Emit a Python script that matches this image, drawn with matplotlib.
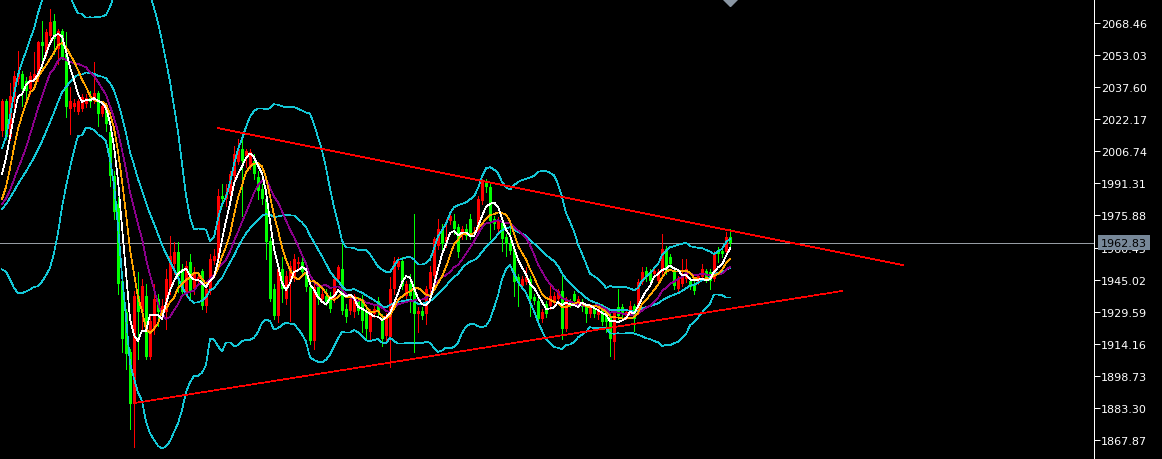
import numpy as np
import pandas as pd
import matplotlib
matplotlib.use("Agg")
import matplotlib.pyplot as plt
import matplotlib.transforms as mtransforms

# closes before the first visible bar (only used to warm up the indicators)
warmup_close = [1969.4, 1971.8, 1976.6, 1979.0, 1974.2, 1976.6, 1975.2, 1979.0, 1981.4, 1976.6,
                1974.2, 1976.6, 1967.0, 1962.1, 1962.1, 1974.2, 1983.8, 1991.0, 1999.2]

opens = [2016.6, 2031.0, 2013.7, 2032.0, 2041.6, 2044.0, 2040.7, 2036.8, 2041.6, 2043.1,
         2059.5, 2053.7, 2062.4, 2069.6, 2056.1, 2064.8, 2053.7, 2027.2, 2028.2, 2025.7,
         2027.2, 2029.6, 2032.5, 2031.0, 2034.9, 2024.8, 2028.2, 2016.1, 1994.9, 1981.4,
         1944.3, 1929.4, 1910.1, 1885.1, 1937.1, 1929.4, 1937.1, 1907.7, 1921.2, 1935.7,
         1929.4, 1929.4, 1940.5, 1952.5, 1958.3, 1950.1, 1939.0, 1953.5, 1940.5, 1945.3,
         1949.2, 1932.3, 1940.5, 1954.0, 1954.9, 1985.3, 1983.8, 1986.2, 1994.9, 2001.6,
         2007.9, 2004.5, 1999.7, 2002.1, 1994.4, 1988.6, 1983.8, 1963.6, 1940.5, 1927.5,
         1950.1, 1935.7, 1943.8, 1946.3, 1952.5, 1953.5, 1948.7, 1941.4, 1915.4, 1941.4,
         1935.7, 1937.1, 1937.1, 1935.7, 1945.3, 1950.1, 1930.8, 1929.9, 1929.4, 1934.7,
         1935.7, 1929.9, 1919.8, 1928.4, 1934.7, 1926.0, 1917.8, 1917.4, 1940.5, 1951.1,
         1954.0, 1937.1, 1942.9, 1941.4, 1928.4, 1929.9, 1928.4, 1940.5, 1946.7, 1961.2,
         1969.4, 1963.1, 1973.2, 1973.2, 1970.3, 1967.0, 1969.4, 1974.2, 1967.0, 1967.9,
         1982.9, 1992.0, 1989.6, 1974.2, 1969.4, 1972.7, 1965.5, 1962.1, 1959.7, 1946.3,
         1941.9, 1943.8, 1945.3, 1936.6, 1934.7, 1926.0, 1933.2, 1932.3, 1934.7, 1935.7,
         1939.5, 1921.2, 1934.7, 1938.1, 1933.2, 1934.2, 1931.8, 1928.4, 1930.8, 1928.0,
         1931.8, 1930.8, 1927.0, 1914.9, 1931.8, 1931.8, 1927.5, 1929.4, 1932.3, 1929.9,
         1943.8, 1949.2, 1948.7, 1947.7, 1944.3, 1948.7, 1959.7, 1955.9, 1949.6, 1940.5,
         1942.9, 1945.3, 1944.3, 1942.9, 1943.8, 1946.3, 1949.2, 1948.7, 1945.3, 1958.8,
         1958.8, 1958.3, 1965.5]

highs = [2032.0, 2032.0, 2039.7, 2045.5, 2055.1, 2045.5, 2042.6, 2045.0, 2054.6, 2059.9,
         2069.6, 2065.7, 2075.4, 2072.9, 2065.7, 2065.7, 2064.3, 2037.8, 2032.0, 2032.0,
         2034.4, 2034.4, 2035.9, 2049.8, 2035.9, 2030.6, 2029.6, 2017.6, 1997.3, 1984.8,
         1946.3, 1930.8, 1911.6, 1939.5, 1948.7, 1945.3, 1942.9, 1928.4, 1942.9, 1938.1,
         1935.7, 1950.1, 1966.0, 1963.1, 1963.1, 1952.5, 1954.0, 1957.3, 1951.1, 1947.7,
         1950.1, 1942.9, 1957.3, 1959.7, 1988.6, 1991.0, 1991.0, 1997.3, 2009.4, 2012.7,
         2014.2, 2007.9, 2007.9, 2005.5, 1997.3, 1991.0, 1986.2, 1965.5, 1942.9, 1951.1,
         1955.9, 1949.2, 1954.0, 1957.3, 1955.9, 1956.4, 1951.1, 1942.9, 1943.8, 1942.9,
         1940.5, 1940.5, 1939.0, 1947.2, 1952.0, 1963.1, 1933.2, 1936.6, 1938.1, 1936.6,
         1937.6, 1931.8, 1930.8, 1932.3, 1936.6, 1928.4, 1928.9, 1946.3, 1955.9, 1955.9,
         1955.9, 1944.3, 1947.7, 1976.6, 1931.8, 1931.8, 1941.9, 1951.6, 1965.5, 1974.2,
         1971.8, 1974.2, 1976.6, 1976.6, 1971.8, 1970.8, 1971.8, 1976.6, 1970.3, 1985.3,
         1993.5, 1993.5, 1991.0, 1975.6, 1975.2, 1974.2, 1967.0, 1969.4, 1960.7, 1947.7,
         1946.7, 1951.1, 1946.7, 1938.1, 1936.6, 1930.8, 1934.7, 1941.9, 1939.0, 1940.5,
         1948.7, 1936.6, 1935.7, 1939.5, 1937.1, 1935.7, 1933.2, 1933.2, 1932.3, 1932.3,
         1933.2, 1931.8, 1928.4, 1930.8, 1940.5, 1933.2, 1930.8, 1934.7, 1933.2, 1945.3,
         1951.1, 1951.1, 1950.1, 1951.6, 1950.1, 1967.0, 1961.2, 1957.3, 1951.1, 1946.7,
         1954.9, 1954.9, 1946.3, 1944.3, 1947.7, 1952.5, 1950.1, 1950.1, 1958.8, 1960.7,
         1959.7, 1967.9, 1969.4]

lows = [2014.2, 2012.7, 2012.3, 2026.2, 2039.2, 2028.6, 2032.0, 2034.4, 2040.7, 2040.7,
        2045.5, 2052.7, 2060.9, 2053.7, 2048.9, 2051.3, 2023.3, 2015.1, 2026.2, 2024.8,
        2026.2, 2028.2, 2028.2, 2030.1, 2019.0, 2023.8, 2016.6, 1990.1, 1974.2, 1938.1,
        1910.1, 1901.9, 1873.0, 1864.4, 1906.8, 1921.2, 1906.8, 1906.8, 1918.8, 1922.7,
        1927.0, 1921.2, 1938.1, 1947.7, 1939.0, 1937.1, 1937.1, 1935.7, 1938.1, 1942.9,
        1930.8, 1929.4, 1938.1, 1952.5, 1954.0, 1980.5, 1980.5, 1983.8, 1993.5, 2000.7,
        1975.6, 1999.2, 1998.3, 1993.5, 1983.8, 1981.4, 1954.9, 1934.7, 1926.0, 1924.6,
        1934.2, 1933.2, 1925.1, 1944.3, 1950.1, 1946.7, 1939.5, 1914.0, 1911.6, 1933.2,
        1934.2, 1932.8, 1929.4, 1934.2, 1944.3, 1928.4, 1924.6, 1928.4, 1927.0, 1928.4,
        1919.8, 1916.4, 1916.4, 1927.0, 1928.0, 1913.0, 1914.9, 1902.9, 1938.1, 1950.1,
        1940.5, 1935.7, 1929.4, 1910.1, 1919.8, 1926.0, 1923.6, 1939.0, 1945.3, 1959.7,
        1959.7, 1960.7, 1971.8, 1967.0, 1955.9, 1964.6, 1964.6, 1964.6, 1966.0, 1966.5,
        1981.4, 1987.2, 1964.6, 1969.4, 1967.9, 1958.8, 1956.4, 1957.3, 1937.1, 1932.3,
        1940.5, 1942.9, 1927.5, 1933.2, 1924.6, 1924.6, 1927.0, 1930.8, 1933.2, 1934.2,
        1916.4, 1920.2, 1931.8, 1933.2, 1931.8, 1929.9, 1924.6, 1927.0, 1927.0, 1926.0,
        1923.1, 1919.8, 1908.2, 1906.8, 1926.0, 1927.0, 1926.0, 1928.4, 1920.2, 1928.4,
        1942.9, 1944.3, 1942.9, 1946.3, 1943.4, 1947.7, 1947.7, 1951.1, 1940.5, 1939.5,
        1941.9, 1943.8, 1940.5, 1938.1, 1942.9, 1945.3, 1943.8, 1940.5, 1944.3, 1953.5,
        1955.9, 1957.3, 1960.7]

closes = [2031.0, 2013.7, 2033.5, 2043.1, 2044.5, 2036.8, 2035.9, 2043.1, 2044.0, 2059.5,
          2057.5, 2064.3, 2069.1, 2060.9, 2064.8, 2052.2, 2028.2, 2031.0, 2030.1, 2031.0,
          2033.0, 2032.5, 2030.6, 2034.9, 2024.8, 2028.6, 2020.0, 1994.9, 1977.6, 1942.9,
          1916.4, 1909.2, 1885.1, 1937.1, 1929.4, 1941.9, 1907.7, 1925.1, 1935.7, 1929.4,
          1932.3, 1945.3, 1956.4, 1958.3, 1946.7, 1939.0, 1951.6, 1939.0, 1948.7, 1946.3,
          1932.3, 1940.5, 1954.9, 1956.4, 1985.3, 1983.8, 1986.2, 1995.9, 2005.5, 2007.9,
          2002.1, 2007.0, 2006.5, 1995.9, 1987.7, 1983.8, 1963.1, 1935.7, 1927.5, 1950.1,
          1940.5, 1946.7, 1951.6, 1954.9, 1953.5, 1948.7, 1941.4, 1915.4, 1941.4, 1935.7,
          1938.1, 1934.2, 1930.8, 1945.3, 1951.1, 1929.9, 1927.0, 1935.7, 1937.1, 1929.9,
          1925.1, 1921.2, 1929.4, 1930.8, 1929.4, 1916.4, 1927.5, 1940.5, 1954.0, 1954.0,
          1941.9, 1942.9, 1937.1, 1928.4, 1929.9, 1927.5, 1940.5, 1948.7, 1964.6, 1969.4,
          1962.1, 1965.5, 1975.6, 1969.4, 1958.3, 1969.4, 1966.0, 1967.0, 1967.9, 1983.8,
          1992.5, 1989.6, 1973.2, 1971.8, 1973.2, 1964.6, 1962.1, 1958.8, 1943.8, 1943.8,
          1945.3, 1946.3, 1935.7, 1934.7, 1926.0, 1929.4, 1928.4, 1937.1, 1937.1, 1939.5,
          1921.2, 1934.7, 1933.2, 1934.7, 1935.7, 1931.8, 1928.4, 1932.3, 1928.4, 1930.8,
          1924.6, 1924.6, 1916.4, 1929.4, 1927.5, 1928.4, 1929.4, 1932.3, 1926.0, 1943.8,
          1948.7, 1946.3, 1944.3, 1949.2, 1948.7, 1959.7, 1949.2, 1952.5, 1941.9, 1945.3,
          1946.7, 1950.1, 1941.4, 1939.5, 1946.7, 1950.1, 1945.3, 1944.3, 1957.3, 1957.3,
          1957.3, 1965.5, 1962.83]

price_ticks = [2068.46, 2053.03, 2037.60, 2022.17, 2006.74, 1991.31, 1975.88,
               1960.45, 1945.02, 1929.59, 1914.16, 1898.73, 1883.30, 1867.87]
last_price = 1962.83

# trendlines: (bar index, price) endpoints
upper_line = [(54, 2018.0), (225.25, 1952.0)]
lower_line = [(33, 1885.5), (210, 1939.5)]

############################ indicators ###########################
n_warm = len(warmup_close)
all_close = pd.Series(warmup_close + closes)
ma5 = all_close.rolling(5).mean().to_numpy()[n_warm:]
ma8 = all_close.rolling(8).mean().to_numpy()[n_warm:]
ma13 = all_close.rolling(13).mean().to_numpy()[n_warm:]
bb_mid = all_close.rolling(20).mean()
bb_std = all_close.rolling(20).std(ddof=0)
bb_up = (bb_mid + 2 * bb_std).to_numpy()[n_warm:]
bb_dn = (bb_mid - 2 * bb_std).to_numpy()[n_warm:]
bb_mid = bb_mid.to_numpy()[n_warm:]

o = np.array(opens)
h = np.array(highs)
l = np.array(lows)
c = np.array(closes)
x = np.arange(len(c))
up = c >= o  # red = up, green = down

############################ figure ###########################
W, H = 1162, 460
fig = plt.figure(figsize=(W / 100, H / 100), dpi=100, facecolor="black")
ax = fig.add_axes([0, 0, 1094 / W, 1], facecolor="black")

lw = 0.5  # thin enough to come out as a single pixel without antialiasing
red, green = "#ff0000", "#00ff00"
cols = np.where(up, red, green)

# candles (crisp, like the terminal draws them)
ax.vlines(x, l, h, colors=cols, linewidth=lw, antialiased=False, zorder=2)
ax.bar(x, np.maximum(np.abs(c - o), 0.5), bottom=np.minimum(o, c), width=0.75,
       color=cols, linewidth=0, antialiased=False, zorder=3)

# bollinger bands + moving averages
cyan = "#14c8d8"
for band in (bb_up, bb_mid, bb_dn):
    ax.plot(x, band, color=cyan, lw=lw, antialiased=False, zorder=4)
ax.plot(x, ma13, color="#8b008b", lw=lw, antialiased=False, zorder=5)
ax.plot(x, ma8, color="#ffa500", lw=lw, antialiased=False, zorder=6)
ax.plot(x, ma5, color="white", lw=lw, antialiased=False, zorder=7)

# trendlines
for line in (upper_line, lower_line):
    ax.plot([line[0][0], line[1][0]], [line[0][1], line[1][1]], color=red, lw=lw,
            antialiased=False, zorder=8)

# current price line
ax.axhline(last_price, color="#969ca3", lw=lw, antialiased=False, zorder=1)

ax.set_xlim(-0.5, 273)
ax.set_ylim(1858.57, 2080.17)

# chart shift marker at the top
ax.plot([182], [2080.17], marker="D", ms=7, color="#8a96a3", clip_on=True, zorder=9)

# price scale on the right
for s in ("left", "top", "bottom"):
    ax.spines[s].set_visible(False)
ax.spines["right"].set_color("white")
ax.spines["right"].set_linewidth(0.72)
ax.xaxis.set_visible(False)
ax.yaxis.tick_right()
ax.set_yticks(price_ticks)
ax.set_yticklabels(["%.2f" % t for t in price_ticks])
ax.tick_params(axis="y", colors="white", length=4, width=0.72, pad=1, labelsize=8,
               direction="out")

trans = mtransforms.blended_transform_factory(ax.transAxes, ax.transData)
ax.text(1.0 + 7 / 1094, last_price, "%.2f" % last_price, transform=trans,
        ha="left", va="center", fontsize=8, color="black", zorder=20, clip_on=False,
        bbox=dict(boxstyle="square,pad=0.25", fc="#778899", ec="none"))

fig.savefig("out.png", dpi=100, facecolor="black")
